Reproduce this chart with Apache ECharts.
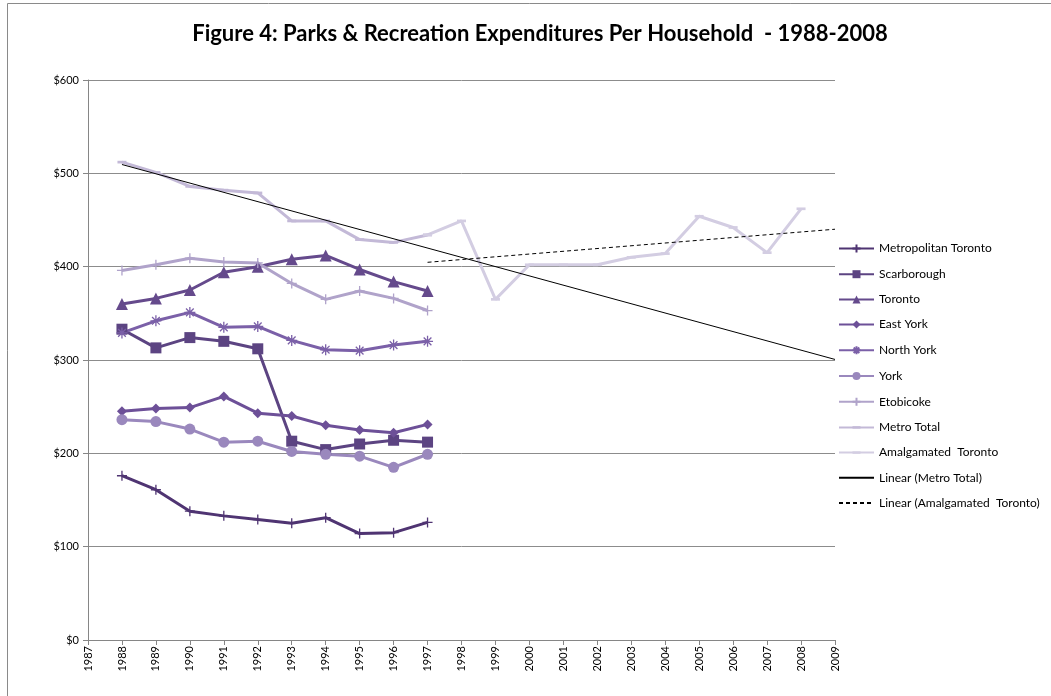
<!DOCTYPE html>
<html>
<head>
<meta charset="utf-8">
<script src="https://cdn.jsdelivr.net/npm/echarts@6/dist/echarts.min.js"></script>
<style>html,body{margin:0;padding:0;background:#fff}#c{width:1051px;height:696px}</style>
</head>
<body>
<div id="c"></div>
<script>
var yearsPre = [1988,1989,1990,1991,1992,1993,1994,1995,1996,1997];
var yearsAmal = [1997,1998,1999,2000,2001,2002,2003,2004,2005,2006,2007,2008];
var metropolitanToronto = [176,161,138,133,129,125,131,114,115,126];
var scarborough = [333,313,324,320,312,213,204,210,214,212];
var toronto = [360,366,375,394,400,408,412,397,384,374];
var eastYork = [245,248,249,261,243,240,230,225,222,231];
var northYork = [329,342,351,335,336,321,311,310,316,320];
var york = [236,234,226,212,213,202,199,197,185,199];
var etobicoke = [396,402,409,405,404,382,365,374,366,353];
var metroTotal = [512,501,486,482,479,449,449,429,426,434];
var amalgamated = [434,449,365,402,402,402,410,414,454,442,415,462];
var trendEndYear = 2009;
var yTicks = [0,100,200,300,400,500,600];

function pairs(xs, ys){ return xs.map(function(x,i){ return [x, ys[i]]; }); }
function trend(xs, ys, x0, x1){
  var n = xs.length, mx = 0, my = 0;
  for (var i=0;i<n;i++){ mx += xs[i]; my += ys[i]; }
  mx/=n; my/=n;
  var sxy=0, sxx=0;
  for (var j=0;j<n;j++){ sxy += (xs[j]-mx)*(ys[j]-my); sxx += (xs[j]-mx)*(xs[j]-mx); }
  var b = sxy/sxx, a = my - b*mx;
  return [[x0, a+b*x0],[x1, a+b*x1]];
}

var plusPath = 'path://M5,0L5,10M0,5L10,5';
var starPath = 'path://M5,0L5,10M0,5L10,5M1.5,1.5L8.5,8.5M8.5,1.5L1.5,8.5';
var dashPath = 'path://M0,0L0,0M0,3.5L10,3.5L10,6.5L0,6.5ZM10,10L10,10';
var blankPath = 'path://M0,0L0,0M10,10L10,10';

function ser(name, xs, ys, color, symbol, size, strokeSym){
  var s = {
    name: name, type: 'line', data: pairs(xs, ys),
    symbol: symbol, symbolSize: size, showSymbol: true,
    lineStyle: {color: color, width: 3},
    itemStyle: {color: color},
    emphasis: {disabled: true}, animation: false, z: 3
  };
  if (strokeSym){ s.itemStyle = {color: 'none', borderColor: color, borderWidth: 1.3}; }
  return s;
}

var chart = echarts.init(document.getElementById('c'));
var series = [
  ser('Metropolitan Toronto', yearsPre, metropolitanToronto, '#4f3472', plusPath, 10, true),
  ser('Scarborough', yearsPre, scarborough, '#5c4482', 'rect', 11),
  ser('Toronto', yearsPre, toronto, '#654a8c', 'triangle', 12),
  ser('East York', yearsPre, eastYork, '#6d5098', 'diamond', 10),
  ser('North York', yearsPre, northYork, '#7b60a8', starPath, 11, true),
  ser('York', yearsPre, york, '#9a88bd', 'circle', 11),
  ser('Etobicoke', yearsPre, etobicoke, '#b0a3ca', plusPath, 10, true),
  ser('Metro Total', yearsPre, metroTotal, '#c3b9d7', dashPath, 9),
  ser('Amalgamated  Toronto', yearsAmal, amalgamated, '#d3cde2', dashPath, 9),
  {name: 'Linear (Metro Total)', type: 'line', data: trend(yearsPre, metroTotal, yearsPre[0], trendEndYear),
   symbol: blankPath, showSymbol: false,
   lineStyle: {color: '#000', width: 1}, itemStyle: {color: '#000'}, z: 4, animation: false},
  {name: 'Linear (Amalgamated  Toronto)', type: 'line', data: trend(yearsAmal, amalgamated, yearsAmal[0], trendEndYear),
   symbol: blankPath, showSymbol: false,
   lineStyle: {color: '#000', width: 1, type: [4,3]}, itemStyle: {color: '#000'}, z: 4, animation: false}
];

chart.setOption({
  animation: false,
  backgroundColor: '#fff',
  textStyle: {fontFamily: 'Lato, "Open Sans", sans-serif'},
  title: {
    text: 'Figure 4: Parks & Recreation Expenditures Per Household  - 1988-2008',
    left: 535, top: 18, textAlign: 'center',
    textStyle: {fontSize: 22, fontWeight: 'bold', color: '#000', fontFamily: 'Lato, sans-serif'}
  },
  graphic: [{type: 'rect', shape: {x: 7.5, y: 3.5, width: 1100, height: 800},
    style: {fill: 'none', stroke: '#8a8a8a', lineWidth: 1}, silent: true, z: -1}],
  legend: {
    orient: 'vertical', left: 833, top: 237,
    itemWidth: 35, itemHeight: 10, itemGap: 13.2,
    textStyle: {fontSize: 12, color: '#000', fontFamily: 'Lato, sans-serif'},
    data: series.map(function(s){ return s.name; })
  },
  grid: {left: 88, right: 216, top: 80, bottom: 56, containLabel: false},
  xAxis: {
    type: 'value', min: 1987, max: 2009, interval: 1,
    axisLine: {lineStyle: {color: '#868686'}},
    axisTick: {show: true, length: 5, lineStyle: {color: '#868686'}},
    splitLine: {show: false},
    axisLabel: {rotate: 90, fontSize: 11, color: '#000', margin: 6,
      formatter: function(v){ return String(v); }}
  },
  yAxis: {
    type: 'value', min: yTicks[0], max: yTicks[yTicks.length-1], interval: 100,
    axisLine: {show: true, lineStyle: {color: '#868686'}},
    axisTick: {show: true, length: 5, lineStyle: {color: '#868686'}},
    splitLine: {lineStyle: {color: '#8c8c8c', width: 1}},
    axisLabel: {fontSize: 11, color: '#000', margin: 9,
      formatter: function(v){ return '$' + v; }}
  },
  series: series
});
</script>
</body>
</html>
